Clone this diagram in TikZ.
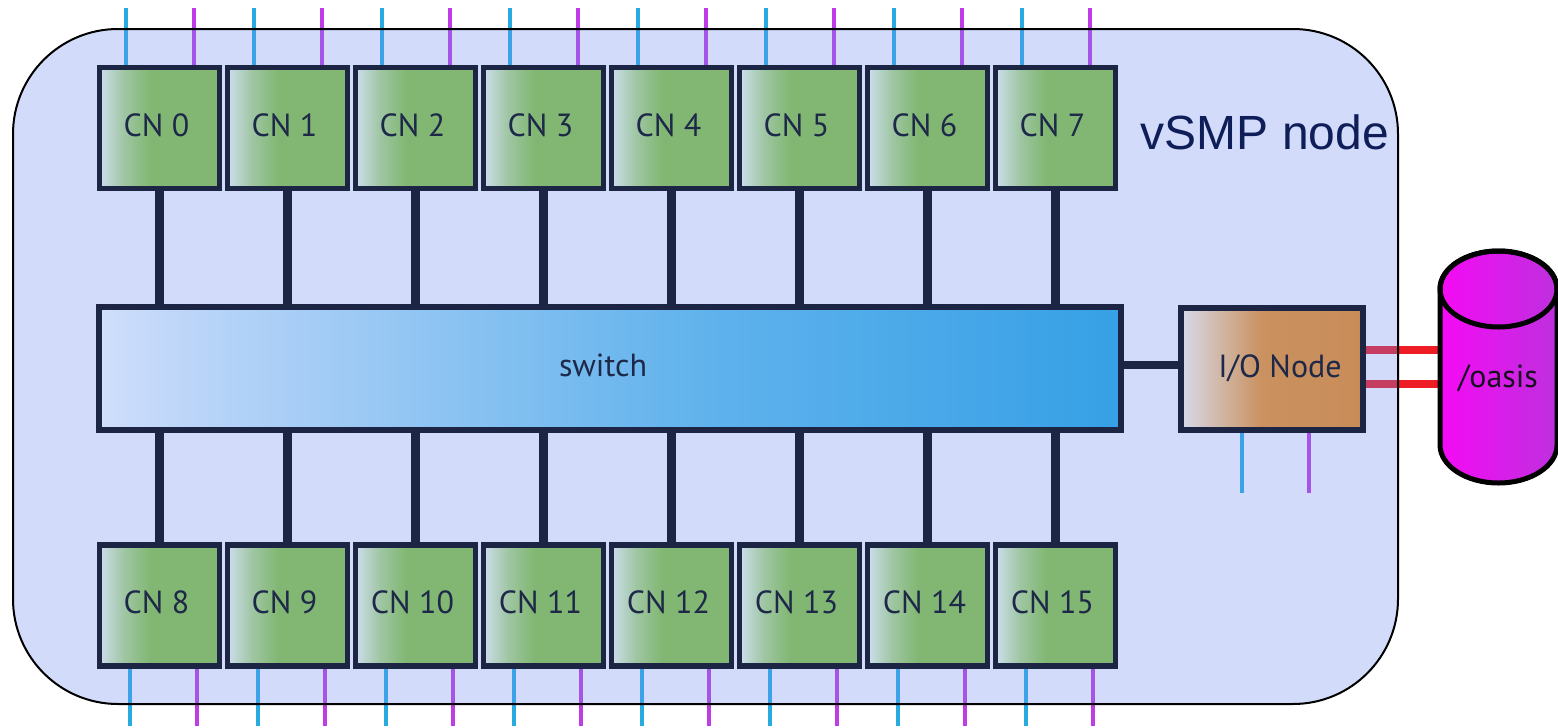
\documentclass[tikz,border=0pt]{standalone}
\usepackage{fontspec}
\setmainfont{PT Sans}
\newfontfamily\headfont{Liberation Sans}
\usetikzlibrary{calc}
\definecolor{navy}{RGB}{28,38,68}
\definecolor{txt}{RGB}{30,40,72}
\definecolor{headtxt}{RGB}{15,30,88}
\definecolor{bluel}{RGB}{41,171,226}
\definecolor{purpl}{RGB}{190,60,228}
\definecolor{redl}{RGB}{238,28,36}
\definecolor{panelc}{RGB}{105,140,240}
\definecolor{cnA}{RGB}{205,222,236}
\definecolor{cnB}{RGB}{160,198,165}
\definecolor{cnC}{RGB}{129,183,114}
\definecolor{swA}{RGB}{208,222,250}
\definecolor{swB}{RGB}{185,212,248}
\definecolor{swC}{RGB}{140,195,242}
\definecolor{swD}{RGB}{95,178,236}
\definecolor{swE}{RGB}{54,160,230}
\definecolor{ioA}{RGB}{215,218,234}
\definecolor{ioB}{RGB}{202,146,96}
\definecolor{ioC}{RGB}{200,140,88}
\definecolor{magL}{RGB}{245,10,245}
\definecolor{magR}{RGB}{190,48,222}
\definecolor{cyltxt}{RGB}{25,15,35}
\pgfdeclarehorizontalshading{cnshade}{100bp}{color(0bp)=(cnA); color(25bp)=(cnA); color(35bp)=(cnB); color(46bp)=(cnC); color(100bp)=(cnC)}
\pgfdeclarehorizontalshading{swshade}{100bp}{color(0bp)=(swA); color(25bp)=(swA); color(30bp)=(swB); color(42bp)=(swC); color(55bp)=(swD); color(75bp)=(swE); color(100bp)=(swE)}
\pgfdeclarehorizontalshading{ioshade}{100bp}{color(0bp)=(ioA); color(25bp)=(ioA); color(47bp)=(ioB); color(75bp)=(ioC); color(100bp)=(ioC)}
\pgfdeclarelayer{lines}
\pgfdeclarelayer{panel}
\pgfsetlayers{lines,panel,main}
\begin{document}
\begin{tikzpicture}[x=0.5pt,y=-0.5pt,
  panelbox/.style={draw=black, line width=1pt, fill=panelc, fill opacity=0.3,
    rounded corners=52.5pt, minimum width=692.5pt, minimum height=337.5pt, inner sep=0pt},
  headlabel/.style={font=\headfont\fontsize{24}{28}\selectfont, text=headtxt, inner sep=0pt},
  cnbox/.style={draw=navy, line width=2.6pt, shade, shading=cnshade,
    minimum width=60pt, minimum height=60.5pt, inner sep=0pt, text depth=3pt,
    font=\fontsize{16}{19}\selectfont, text=txt},
  swbox/.style={draw=navy, line width=3pt, shade, shading=swshade,
    minimum width=511pt, minimum height=61.5pt, inner sep=0pt, text depth=3pt,
    font=\fontsize{16}{19}\selectfont, text=txt},
  iobox/.style={draw=navy, line width=3pt, shade, shading=ioshade,
    minimum width=91pt, minimum height=61pt, inner sep=0pt, text depth=3pt,
    font=\fontsize{16}{19}\selectfont, text=txt},
  bus/.style={draw=navy, line width=4.25pt},
  bline/.style={draw=bluel, line width=2.4pt},
  pline/.style={draw=purpl, line width=2.4pt},
  rline/.style={draw=redl, line width=4.25pt},
  cylbody/.style={draw=black, line width=2.5pt, left color=magL, right color=magR},
  cylline/.style={draw=black, line width=2.5pt},
  cyltext/.style={font=\fontsize{16}{19}\selectfont, text=cyltxt, inner sep=0pt}
]
\useasboundingbox (0,0) rectangle (1558,728);

% compute nodes
\foreach \i in {0,...,7} {
  \pgfmathtruncatemacro\j{\i+8}
  \node[cnbox] (c\i) at ({159.5+128*\i},128) {CN \i\hspace*{3pt}};
  \node[cnbox] (c\j) at ({159.5+128*\i},605.5) {CN \j\hspace*{3pt}};
}
\node[swbox] (sw) at (610,368.5) {switch\hspace*{7pt}};
\node[iobox] (io) at (1272,369) {\hspace*{8pt}I/O Node};
\node[headlabel] (vsmplabel) at (1265,132.5) {vSMP node};

% switch connectors
\foreach \i in {0,...,7} {
  \draw[bus] (c\i.south) -- (c\i.south |- sw.north);
}
\foreach \j in {8,...,15} {
  \draw[bus] (sw.south -| c\j.north) -- (c\j.north);
}
\draw[bus] ([yshift=1.75pt]sw.east) -- ([yshift=1.75pt]sw.east -| io.west);

% storage cylinder
\coordinate (cylL) at (1440,369);
\path[cylbody] (1440,289) -- (1440,445)
  arc[start angle=180, end angle=0, x radius=58.5, y radius=38] -- (1557,289)
  arc[start angle=0, end angle=-180, x radius=58.5, y radius=38] -- cycle;
\draw[cylline] (1498.5,289) ellipse [x radius=58.5, y radius=38];
\node[cyltext] (cyl) at (1498,378) {/oasis};

% panel
\begin{pgfonlayer}{panel}
\node[panelbox] (vsmp) at (705.5,366.5) {};
\end{pgfonlayer}

% thin links
\begin{pgfonlayer}{lines}
\coordinate (topend) at (0,8);
\coordinate (botend) at (0,726);
\coordinate (ioend) at (0,493);
\foreach \i in {0,...,7} {
  \draw[bline] ([xshift=-16.75pt]c\i.north) -- ([xshift=-16.75pt]c\i.north |- topend);
  \draw[pline] ([xshift=17.25pt]c\i.north) -- ([xshift=17.25pt]c\i.north |- topend);
}
\foreach \j in {8,...,15} {
  \draw[bline] ([xshift=-14.75pt]c\j.south) -- ([xshift=-14.75pt]c\j.south |- botend);
  \draw[pline] ([xshift=18.75pt]c\j.south) -- ([xshift=18.75pt]c\j.south |- botend);
}
\draw[bline] ([xshift=-15pt]io.south) -- ([xshift=-15pt]io.south |- ioend);
\draw[pline] ([xshift=18.5pt]io.south) -- ([xshift=18.5pt]io.south |- ioend);
\draw[rline] ([yshift=9.5pt]io.east) -- ([yshift=9.5pt]cylL);
\draw[rline] ([yshift=-7.5pt]io.east) -- ([yshift=-7.5pt]cylL);
\end{pgfonlayer}
\end{tikzpicture}
\end{document}
